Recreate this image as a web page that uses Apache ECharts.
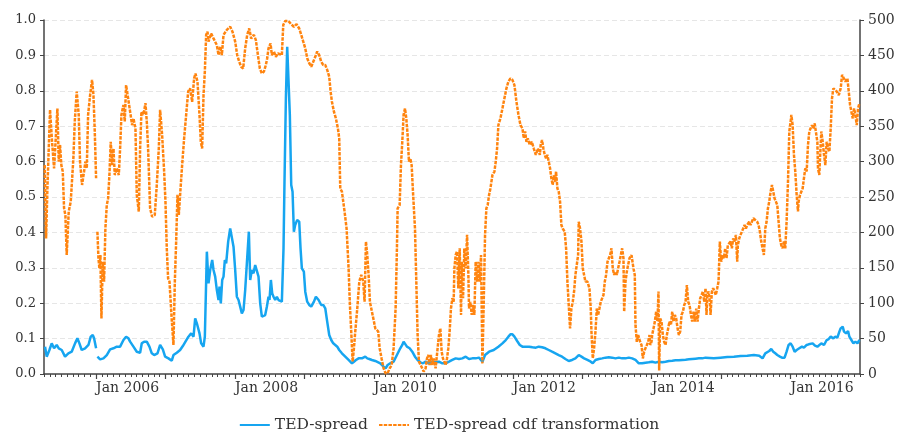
<!DOCTYPE html>
<html>
<head>
<meta charset="utf-8">
<script src="https://cdn.jsdelivr.net/npm/echarts@6/dist/echarts.min.js"></script>
<style>
  html, body { margin: 0; padding: 0; background: #ffffff; }
  #chart { width: 898px; height: 432px; }
</style>
</head>
<body>
<div id="chart"></div>
<script>
// TED spread (basis points, right axis), dates as decimal years; null marks a gap
const tedDates = [
  2005.265, 2005.289, 2005.328, 2005.361, 2005.395, 2005.433, 2005.462, 2005.481, 2005.505, 2005.553,
  2005.601, 2005.649, 2005.697, 2005.731, 2005.760, 2005.793, 2005.842, 2005.890, 2005.923, 2005.952,
  2005.971, 2006.000, 2006.010, 2006.019, 2006.058, 2006.106, 2006.154, 2006.202, 2006.250, 2006.298,
  2006.346, 2006.394, 2006.432, 2006.466, 2006.490, 2006.538, 2006.586, 2006.634, 2006.658, 2006.692,
  2006.730, 2006.768, 2006.802, 2006.836, 2006.884, 2006.922, 2006.961, 2006.994, 2007.042, 2007.090,
  2007.114, 2007.162, 2007.210, 2007.249, 2007.287, 2007.330, 2007.369, 2007.403, 2007.427, 2007.451,
  2007.489, 2007.513, 2007.547, 2007.566, 2007.595, 2007.619, 2007.643, 2007.672, 2007.691, 2007.715,
  2007.739, 2007.763, 2007.777, 2007.796, 2007.816, 2007.835, 2007.854, 2007.873, 2007.902, 2007.931,
  2007.950, 2007.979, 2008.003, 2008.027, 2008.051, 2008.075, 2008.099, 2008.123, 2008.147, 2008.171,
  2008.200, 2008.219, 2008.243, 2008.267, 2008.291, 2008.315, 2008.339, 2008.363, 2008.387, 2008.411,
  2008.435, 2008.459, 2008.483, 2008.497, 2008.517, 2008.536, 2008.555, 2008.579, 2008.603, 2008.627,
  2008.651, 2008.675, 2008.699, 2008.713, 2008.733, 2008.752, 2008.762, 2008.771, 2008.790, 2008.810,
  2008.829, 2008.848, 2008.867, 2008.896, 2008.925, 2008.944, 2008.963, 2008.992, 2009.012, 2009.040,
  2009.069, 2009.098, 2009.117, 2009.137, 2009.165, 2009.184, 2009.204, 2009.223, 2009.242, 2009.271,
  2009.300, 2009.328, 2009.357, 2009.386, 2009.415, 2009.444, 2009.473, 2009.501, 2009.540, 2009.588,
  2009.636, 2009.684, 2009.713, 2009.742, 2009.780, 2009.828, 2009.876, 2009.905, 2009.934, 2009.972,
  2010.020, 2010.044, 2010.092, 2010.140, 2010.169, 2010.198, 2010.236, 2010.284, 2010.332, 2010.380,
  2010.409, 2010.428, 2010.448, 2010.476, 2010.515, 2010.553, 2010.592, 2010.630, 2010.669, 2010.707,
  2010.745, 2010.793, 2010.841, 2010.889, 2010.937, 2010.986, 2011.033, 2011.082, 2011.130, 2011.178,
  2011.226, 2011.274, 2011.322, 2011.370, 2011.418, 2011.466, 2011.514, 2011.563, 2011.601, 2011.659,
  2011.726, 2011.793, 2011.851, 2011.899, 2011.937, 2011.966, 2011.995, 2012.024, 2012.063, 2012.101,
  2012.139, 2012.187, 2012.236, 2012.284, 2012.332, 2012.374, 2012.422, 2012.470, 2012.518, 2012.566,
  2012.614, 2012.662, 2012.710, 2012.758, 2012.806, 2012.854, 2012.902, 2012.950, 2012.989, 2013.027,
  2013.075, 2013.123, 2013.152, 2013.191, 2013.239, 2013.287, 2013.335, 2013.383, 2013.431, 2013.479,
  2013.527, 2013.575, 2013.623, 2013.671, 2013.719, 2013.767, 2013.815, 2013.863, 2013.911, 2013.959,
  2014.007, 2014.055, 2014.103, 2014.151, 2014.200, 2014.248, 2014.296, 2014.344, 2014.392, 2014.440,
  2014.488, 2014.536, 2014.584, 2014.632, 2014.680, 2014.728, 2014.776, 2014.895, 2014.991, 2015.088,
  2015.184, 2015.280, 2015.376, 2015.472, 2015.549, 2015.597, 2015.636, 2015.664, 2015.693, 2015.722,
  2015.751, 2015.780, 2015.809, 2015.847, 2015.876, 2015.914, 2015.943, 2015.972, 2016.001, 2016.030,
  2016.059, 2016.088, 2016.126, 2016.164, 2016.193, 2016.232, 2016.261, 2016.289, 2016.318, 2016.352,
  2016.386, 2016.414, 2016.443, 2016.482, 2016.520, 2016.549, 2016.578, 2016.616, 2016.645, 2016.674,
  2016.703, 2016.722, 2016.751, 2016.770, 2016.799, 2016.828, 2016.847, 2016.876, 2016.905, 2016.934,
  2016.963, 2016.992
];
const tedValues = [
  38.6, 24.5, 33.9, 43.3, 36.3, 41, 36.3, 38.6, 33.9, 24.5,
  29.2, 31.5, 43.3, 50.4, 43.3, 33.9, 36.3, 41, 52.7, 55.1,
  50.4, 36.3, null, 24.5, 20.7, 22.1, 26.8, 34.8, 36.3, 38.6,
  38.6, 48, 52.7, 50.4, 45.7, 38.6, 31.5, 30.1, 43.3, 45.7,
  45.7, 38.6, 29.2, 26.8, 29.2, 41, 34.8, 24.5, 22.1, 18.8,
  26.8, 30.1, 33.9, 39.5, 45.7, 52.7, 57.4, 52.7, 78.6, 71.6,
  57.4, 43.3, 38.6, 52.7, 172.8, 128, 146.9, 161, 146.9, 137.5,
  118.6, 104.5, 123.4, 99.8, 132.8, 137.5, 161, 156.3, 186.9, 205.7,
  208.1, 179.8, 146.9, 109.2, 104.5, 95.1, 85.7, 90.4, 118.6, 156.3,
  201, 132.8, 146.9, 142.2, 154, 154, 137.5, 99.8, 81, 78.6,
  83.3, 95.1, 109.2, 104.5, 132.8, 113.9, 109.2, 104.5, 109.2, 104.5,
  106.9, 102.2, 177.5, 271.7, 389.4, 462.3, 464.7, 460, 365.8, 267,
  257.5, 201, 210.5, 217.5, 215.2, 177.5, 149.2, 144.5, 116.3, 102.2,
  97.5, 95.1, 97.5, 102.2, 109.2, 111.6, 104.5, 106.9, 97.5, 97.5,
  92.8, 73.9, 55.1, 48, 43.3, 41, 38.6, 33.9, 29.2, 24.5,
  19.8, 15.1, 17.4, 19.8, 22.1, 22.1, 24.5, 22.1, 21.2, 19.8,
  18.4, 17.4, 15.1, 10.4, 8, 12.7, 15.1, 17.4, 26.8, 36.3,
  41, 45.7, 43.3, 38.6, 36.3, 31.5, 24.5, 19.8, 16.5, 15.1,
  17.4, 15.1, 17.4, 16.5, 17.4, 15.1, 15.1, 17.4, 19.8, 22.1,
  21.2, 22.1, 24.5, 21.2, 22.1, 22.1, 23.1, 17.4, 26.8, 31.5,
  33.9, 38.6, 43.3, 48, 52.7, 56, 56, 52.7, 46.6, 41,
  38.6, 38.6, 38.6, 37.7, 37.2, 38.6, 37.7, 36.3, 33.9, 31.5,
  29.2, 26.8, 24.5, 21.2, 18.4, 19.8, 22.1, 26.8, 24.5, 22.1,
  19.8, 17.4, 15.1, 19.8, 21.2, 22.1, 23.1, 23.5, 23.1, 22.1,
  23.1, 22.1, 22.1, 23.1, 22.1, 19.8, 15.1, 15.1, 16, 16.5,
  17.4, 16, 17.4, 16.5, 17.4, 18.4, 18.8, 19.3, 19.3, 19.8,
  20.2, 20.7, 21.2, 21.7, 22.1, 22.1, 23.1, 22.1, 23.1, 24,
  24.5, 25.4, 25.9, 26.8, 25.9, 22.1, 29.2, 30.6, 32.5, 35.3,
  31.5, 29.2, 26.8, 24.5, 23.1, 23.1, 31.5, 41, 43.3, 38.6,
  31.5, 33.9, 36.3, 38.6, 37.2, 41, 41.9, 41, 43.3, 40,
  38.6, 40, 43.3, 41, 48, 49.4, 52.7, 50.4, 52.7, 51.3,
  59.8, 64.5, 66.9, 59.8, 57.4, 60.7, 52.7, 48, 43.3, 45.7,
  43.3, 48
];

// cdf transformation of the TED spread (0-1, left axis)
const cdfDates = [
  2005.260, 2005.280, 2005.299, 2005.337, 2005.366, 2005.395, 2005.414, 2005.443, 2005.462, 2005.481,
  2005.500, 2005.520, 2005.539, 2005.558, 2005.577, 2005.606, 2005.635, 2005.654, 2005.673, 2005.693,
  2005.721, 2005.750, 2005.769, 2005.798, 2005.827, 2005.846, 2005.866, 2005.885, 2005.914, 2005.942,
  2005.962, 2005.981, 2006.000, 2006.010, 2006.019, 2006.034, 2006.048, 2006.062, 2006.077, 2006.096,
  2006.115, 2006.134, 2006.154, 2006.173, 2006.192, 2006.211, 2006.231, 2006.250, 2006.269, 2006.298,
  2006.327, 2006.346, 2006.365, 2006.394, 2006.413, 2006.432, 2006.461, 2006.490, 2006.519, 2006.538,
  2006.567, 2006.586, 2006.615, 2006.634, 2006.653, 2006.682, 2006.711, 2006.730, 2006.749, 2006.778,
  2006.807, 2006.845, 2006.874, 2006.903, 2006.922, 2006.951, 2006.980, 2006.999, 2007.018, 2007.037,
  2007.057, 2007.085, 2007.114, 2007.134, 2007.153, 2007.172, 2007.191, 2007.210, 2007.239, 2007.268,
  2007.297, 2007.326, 2007.354, 2007.383, 2007.412, 2007.431, 2007.460, 2007.489, 2007.508, 2007.527,
  2007.547, 2007.566, 2007.585, 2007.604, 2007.619, 2007.657, 2007.691, 2007.739, 2007.763, 2007.787,
  2007.811, 2007.835, 2007.883, 2007.931, 2007.964, 2008.003, 2008.032, 2008.061, 2008.089, 2008.118,
  2008.147, 2008.176, 2008.205, 2008.233, 2008.272, 2008.301, 2008.330, 2008.358, 2008.387, 2008.416,
  2008.445, 2008.464, 2008.483, 2008.512, 2008.531, 2008.560, 2008.589, 2008.618, 2008.646, 2008.675,
  2008.695, 2008.723, 2008.771, 2008.810, 2008.848, 2008.887, 2008.925, 2008.954, 2008.983, 2009.012,
  2009.040, 2009.069, 2009.098, 2009.127, 2009.156, 2009.184, 2009.213, 2009.242, 2009.271, 2009.300,
  2009.328, 2009.357, 2009.377, 2009.396, 2009.425, 2009.453, 2009.482, 2009.501, 2009.516, 2009.540,
  2009.559, 2009.578, 2009.607, 2009.636, 2009.655, 2009.674, 2009.694, 2009.713, 2009.732, 2009.761,
  2009.790, 2009.818, 2009.847, 2009.866, 2009.886, 2009.905, 2009.924, 2009.943, 2009.972, 2010.001,
  2010.020, 2010.035, 2010.063, 2010.083, 2010.111, 2010.140, 2010.169, 2010.198, 2010.227, 2010.256,
  2010.284, 2010.313, 2010.332, 2010.342, 2010.371, 2010.390, 2010.409, 2010.428, 2010.448, 2010.467,
  2010.486, 2010.505, 2010.524, 2010.544, 2010.563, 2010.592, 2010.611, 2010.630, 2010.649, 2010.669,
  2010.697, 2010.717, 2010.745, 2010.765, 2010.784, 2010.803, 2010.822, 2010.841, 2010.861, 2010.889,
  2010.918, 2010.937, 2010.957, 2010.976, 2010.995, 2011.014, 2011.033, 2011.053, 2011.072, 2011.091,
  2011.110, 2011.130, 2011.149, 2011.159, 2011.178, 2011.197, 2011.216, 2011.236, 2011.255, 2011.265,
  2011.284, 2011.303, 2011.322, 2011.342, 2011.361, 2011.370, 2011.390, 2011.409, 2011.428, 2011.447,
  2011.466, 2011.486, 2011.505, 2011.524, 2011.543, 2011.563, 2011.582, 2011.601, 2011.620, 2011.639,
  2011.659, 2011.678, 2011.707, 2011.736, 2011.755, 2011.774, 2011.793, 2011.822, 2011.851, 2011.880,
  2011.909, 2011.937, 2011.966, 2011.995, 2012.024, 2012.053, 2012.082, 2012.111, 2012.139, 2012.159,
  2012.178, 2012.197, 2012.216, 2012.245, 2012.274, 2012.303, 2012.332, 2012.361, 2012.390, 2012.402,
  2012.422, 2012.441, 2012.460, 2012.479, 2012.498, 2012.518, 2012.537, 2012.556, 2012.575, 2012.594,
  2012.614, 2012.623, 2012.643, 2012.662, 2012.681, 2012.700, 2012.719, 2012.748, 2012.768, 2012.787,
  2012.806, 2012.825, 2012.844, 2012.864, 2012.883, 2012.902, 2012.921, 2012.941, 2012.950, 2012.969,
  2012.989, 2013.008, 2013.027, 2013.046, 2013.075, 2013.104, 2013.123, 2013.133, 2013.152, 2013.171,
  2013.191, 2013.210, 2013.229, 2013.248, 2013.267, 2013.287, 2013.306, 2013.325, 2013.344, 2013.364,
  2013.383, 2013.402, 2013.421, 2013.440, 2013.460, 2013.479, 2013.498, 2013.517, 2013.537, 2013.556,
  2013.575, 2013.594, 2013.604, 2013.623, 2013.642, 2013.661, 2013.681, 2013.710, 2013.738, 2013.757,
  2013.767, 2013.786, 2013.806, 2013.834, 2013.854, 2013.873, 2013.892, 2013.911, 2013.931, 2013.950,
  2013.969, 2013.979, 2013.998, 2014.007, 2014.027, 2014.046, 2014.065, 2014.084, 2014.098, 2014.108,
  2014.123, 2014.142, 2014.161, 2014.180, 2014.200, 2014.219, 2014.238, 2014.257, 2014.277, 2014.296,
  2014.315, 2014.334, 2014.353, 2014.373, 2014.392, 2014.411, 2014.430, 2014.450, 2014.469, 2014.488,
  2014.507, 2014.526, 2014.546, 2014.565, 2014.584, 2014.603, 2014.623, 2014.642, 2014.661, 2014.680,
  2014.699, 2014.719, 2014.738, 2014.757, 2014.776, 2014.790, 2014.800, 2014.819, 2014.838, 2014.848,
  2014.867, 2014.886, 2014.905, 2014.924, 2014.944, 2014.963, 2014.982, 2015.001, 2015.020, 2015.040,
  2015.059, 2015.078, 2015.097, 2015.117, 2015.136, 2015.155, 2015.174, 2015.194, 2015.213, 2015.232,
  2015.241, 2015.261, 2015.280, 2015.299, 2015.318, 2015.338, 2015.357, 2015.376, 2015.405, 2015.424,
  2015.443, 2015.463, 2015.491, 2015.520, 2015.539, 2015.559, 2015.578, 2015.597, 2015.616, 2015.636,
  2015.655, 2015.674, 2015.693, 2015.713, 2015.732, 2015.751, 2015.770, 2015.789, 2015.809, 2015.828,
  2015.847, 2015.866, 2015.886, 2015.905, 2015.924, 2015.943, 2015.963, 2015.982, 2016.001, 2016.011,
  2016.030, 2016.049, 2016.068, 2016.088, 2016.107, 2016.116, 2016.136, 2016.155, 2016.174, 2016.193,
  2016.212, 2016.232, 2016.251, 2016.270, 2016.289, 2016.309, 2016.328, 2016.347, 2016.366, 2016.386,
  2016.395, 2016.414, 2016.424, 2016.443, 2016.463, 2016.482, 2016.501, 2016.520, 2016.540, 2016.559,
  2016.578, 2016.597, 2016.616, 2016.636, 2016.665, 2016.694, 2016.722, 2016.742, 2016.761, 2016.790,
  2016.819, 2016.838, 2016.857, 2016.876, 2016.896, 2016.915, 2016.934, 2016.953, 2016.972, 2016.992
];
const cdfValues = [
  0.590, 0.383, 0.524, 0.746, 0.656, 0.581, 0.647, 0.750, 0.600, 0.647,
  0.590, 0.572, 0.468, 0.449, 0.336, 0.459, 0.487, 0.492, 0.609, 0.713,
  0.798, 0.732, 0.600, 0.534, 0.572, 0.600, 0.581, 0.732, 0.788, 0.831,
  0.788, 0.685, 0.553, null, 0.402, 0.327, 0.298, 0.336, 0.157, 0.317,
  0.261, 0.411, 0.477, 0.496, 0.562, 0.656, 0.590, 0.637, 0.562, 0.581,
  0.562, 0.637, 0.732, 0.760, 0.713, 0.816, 0.779, 0.741, 0.703, 0.722,
  0.694, 0.506, 0.459, 0.637, 0.741, 0.732, 0.765, 0.713, 0.637, 0.468,
  0.444, 0.449, 0.534, 0.637, 0.746, 0.675, 0.572, 0.487, 0.355, 0.270,
  0.261, 0.167, 0.082, 0.261, 0.374, 0.506, 0.449, 0.506, 0.590, 0.666,
  0.732, 0.798, 0.807, 0.769, 0.835, 0.849, 0.826, 0.732, 0.656, 0.637,
  0.788, 0.854, 0.958, 0.967, 0.939, 0.962, 0.948, 0.929, 0.901, 0.925,
  0.901, 0.958, 0.972, 0.981, 0.967, 0.939, 0.901, 0.882, 0.868, 0.863,
  0.920, 0.958, 0.976, 0.948, 0.958, 0.943, 0.901, 0.863, 0.849, 0.854,
  0.873, 0.892, 0.920, 0.934, 0.901, 0.911, 0.896, 0.906, 0.906, 0.901,
  0.986, 0.997, 0.997, 0.988, 0.981, 0.988, 0.976, 0.958, 0.939, 0.920,
  0.892, 0.878, 0.868, 0.882, 0.896, 0.911, 0.901, 0.882, 0.873, 0.873,
  0.859, 0.840, 0.798, 0.769, 0.741, 0.722, 0.694, 0.666, 0.524, 0.515,
  0.487, 0.459, 0.411, 0.298, 0.195, 0.120, 0.035, 0.073, 0.120, 0.185,
  0.261, 0.280, 0.261, 0.204, 0.374, 0.336, 0.280, 0.204, 0.176, 0.148,
  0.129, 0.134, 0.120, 0.073, 0.044, 0.016, 0.002, 0.002, 0.016, 0.025,
  0.073, 0.185, 0.355, 0.468, 0.477, 0.590, 0.656, 0.732, 0.750, 0.722,
  0.675, 0.600, 0.609, 0.590, 0.515, 0.411, 0.261, 0.110, 0.035, 0.030,
  0.016, 0.007, 0.016, 0.044, 0.054, 0.025, 0.054, 0.025, 0.044, 0.016,
  0.073, 0.110, 0.129, 0.063, 0.044, 0.035, 0.025, 0.044, 0.073, 0.120,
  0.185, 0.214, 0.204, 0.298, 0.336, 0.346, 0.242, 0.355, 0.167, 0.317,
  0.214, 0.355, 0.298, 0.393, 0.280, 0.185, 0.204, 0.167, 0.195, 0.167,
  0.317, 0.261, 0.317, 0.261, 0.336, 0.030, 0.204, 0.393, 0.468, 0.477,
  0.506, 0.524, 0.562, 0.572, 0.600, 0.637, 0.703, 0.722, 0.750, 0.779,
  0.807, 0.826, 0.835, 0.831, 0.816, 0.769, 0.732, 0.703, 0.694, 0.666,
  0.685, 0.656, 0.666, 0.647, 0.656, 0.637, 0.619, 0.637, 0.619, 0.647,
  0.661, 0.637, 0.619, 0.609, 0.619, 0.600, 0.581, 0.553, 0.534, 0.562,
  0.543, 0.572, 0.524, 0.515, 0.487, 0.421, 0.411, 0.402, 0.355, 0.261,
  0.195, 0.129, 0.185, 0.204, 0.233, 0.280, 0.280, 0.336, 0.430, 0.411,
  0.374, 0.298, 0.280, 0.261, 0.261, 0.242, 0.185, 0.120, 0.044, 0.073,
  0.120, 0.185, 0.167, 0.185, 0.204, 0.204, 0.223, 0.261, 0.280, 0.317,
  0.327, 0.336, 0.355, 0.298, 0.280, 0.289, 0.280, 0.298, 0.317, 0.336,
  0.355, 0.327, 0.176, 0.261, 0.289, 0.308, 0.327, 0.336, 0.298, 0.280,
  0.138, 0.091, 0.110, 0.091, 0.082, 0.044, 0.063, 0.073, 0.082, 0.091,
  0.110, 0.082, 0.091, 0.110, 0.129, 0.148, 0.176, 0.148, 0.233, 0.010,
  0.157, 0.148, 0.110, 0.091, 0.082, 0.110, 0.129, 0.148, 0.138, 0.176,
  0.148, 0.167, 0.157, 0.129, 0.110, 0.120, 0.167, 0.176, 0.195, 0.204,
  0.251, 0.204, 0.195, 0.167, 0.148, 0.176, 0.148, 0.185, 0.148, 0.185,
  0.214, 0.223, 0.233, 0.204, 0.242, 0.167, 0.223, 0.233, 0.204, 0.167,
  0.233, 0.242, 0.233, 0.223, 0.242, 0.261, 0.374, 0.317, 0.336, 0.327,
  0.355, 0.327, 0.364, 0.364, 0.374, 0.355, 0.383, 0.374, 0.393, 0.317,
  0.364, 0.383, 0.393, 0.402, 0.411, 0.421, 0.411, 0.421, 0.430, 0.421,
  0.430, 0.440, 0.435, 0.430, 0.421, 0.402, 0.374, 0.355, 0.336, 0.411,
  0.430, 0.468, 0.487, 0.515, 0.534, 0.515, 0.496, 0.487, 0.477, 0.430,
  0.383, 0.364, 0.355, 0.374, 0.355, 0.430, 0.543, 0.685, 0.713, 0.732,
  0.703, 0.619, 0.572, 0.506, 0.459, 0.487, 0.506, 0.506, 0.524, 0.553,
  0.581, 0.572, 0.647, 0.685, 0.694, 0.703, 0.694, 0.708, 0.703, 0.656,
  0.581, 0.562, 0.609, 0.685, 0.656, 0.619, 0.590, 0.656, 0.637, 0.628,
  0.694, 0.779, 0.807, 0.812, 0.798, 0.788, 0.807, 0.845, 0.845, 0.826,
  0.835, 0.798, 0.760, 0.741, 0.722, 0.750, 0.732, 0.703, 0.750, 0.765
];

// Axis ticks and labels
const leftTicks = { min: 0, max: 1, step: 0.1 };
const rightTicks = { min: 0, max: 500, step: 50 };
const labelYears = [2006, 2008, 2010, 2012, 2014, 2016];
const axisStart = 2005.25;
const axisEnd = 2017.0;

const yearTicks = [];
for (let y = 2006; y <= 2016; y++) yearTicks.push(y);
const monthTicks = [];
for (let m = Math.ceil(axisStart * 12); m <= Math.floor(axisEnd * 12); m++) monthTicks.push(m / 12);

const pair = (dates, values) => dates.map((d, i) => [d, values[i] === null ? '-' : values[i]]);

const FONT = 'DejaVu Serif';
const TEXT = '#333333';
const AXIS = '#444444';
const BLUE = '#16a5f0';
const ORANGE = '#ff840f';

const chart = echarts.init(document.getElementById('chart'), null, { renderer: 'canvas' });
chart.setOption({
  animation: false,
  backgroundColor: '#ffffff',
  grid: { left: 44, right: 38, top: 20, bottom: 58, containLabel: false },
  legend: {
    top: 412,
    left: 'center',
    itemWidth: 30,
    itemHeight: 14,
    itemGap: 10,
    itemStyle: { opacity: 0 },
    textStyle: { fontFamily: FONT, fontSize: 15.5, color: TEXT },
    data: ['TED-spread', 'TED-spread cdf transformation']
  },
  xAxis: [
    {
      type: 'value',
      min: axisStart,
      max: axisEnd,
      axisLine: { show: true, onZero: false, lineStyle: { color: AXIS, width: 1.5 } },
      axisTick: { show: true, length: 5, customValues: yearTicks, lineStyle: { color: AXIS, width: 1.2 } },
      axisLabel: {
        customValues: labelYears,
        formatter: v => 'Jan ' + Math.round(v),
        align: 'left',
        margin: 7,
        fontFamily: FONT,
        fontSize: 14,
        color: TEXT
      },
      splitLine: { show: false }
    },
    {
      type: 'value',
      min: axisStart,
      max: axisEnd,
      position: 'bottom',
      axisLine: { show: false },
      axisTick: { show: true, length: 3, customValues: monthTicks, lineStyle: { color: AXIS, width: 1 } },
      axisLabel: { show: false },
      splitLine: { show: false }
    }
  ],
  yAxis: [
    {
      type: 'value',
      position: 'left',
      min: leftTicks.min,
      max: leftTicks.max,
      interval: leftTicks.step,
      axisLine: { show: true, lineStyle: { color: AXIS, width: 1.5 } },
      axisTick: { show: true, length: 4, lineStyle: { color: AXIS } },
      axisLabel: { formatter: v => v.toFixed(1), margin: 8, fontFamily: FONT, fontSize: 13, color: TEXT },
      splitLine: { show: true, lineStyle: { color: '#e6e6e6', type: [5, 3], width: 1 } }
    },
    {
      type: 'value',
      position: 'right',
      min: rightTicks.min,
      max: rightTicks.max,
      interval: rightTicks.step,
      axisLine: { show: true, lineStyle: { color: AXIS, width: 1.5 } },
      axisTick: { show: true, length: 4, lineStyle: { color: AXIS } },
      axisLabel: { margin: 8, fontFamily: FONT, fontSize: 14, color: TEXT },
      splitLine: { show: false }
    }
  ],
  series: [
    {
      name: 'TED-spread',
      type: 'line',
      xAxisIndex: 0,
      yAxisIndex: 1,
      data: pair(tedDates, tedValues),
      symbol: 'none',
      color: BLUE,
      lineStyle: { color: BLUE, width: 2.5 },
      z: 2
    },
    {
      name: 'TED-spread cdf transformation',
      type: 'line',
      xAxisIndex: 0,
      yAxisIndex: 0,
      data: pair(cdfDates, cdfValues),
      symbol: 'none',
      color: ORANGE,
      lineStyle: { color: ORANGE, width: 2.5, type: [3.5, 1.2] },
      z: 3
    }
  ]
});
</script>
</body>
</html>
